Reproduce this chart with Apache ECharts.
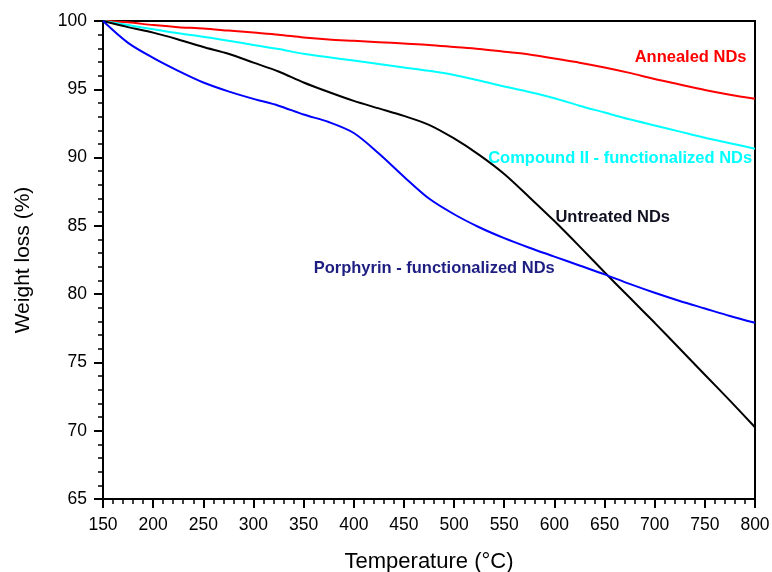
<!DOCTYPE html>
<html>
<head>
<meta charset="utf-8">
<script src="https://cdn.jsdelivr.net/npm/echarts@6/dist/echarts.min.js"></script>
<style>
  html, body { margin: 0; padding: 0; background: #fff; }
  #chart { width: 772px; height: 572px; }
</style>
</head>
<body>
<div id="chart"></div>
<script>
// Temperature grid (°C) shared by all TGA curves
const temperatures = [150, 175, 200, 225, 250, 275, 300, 325, 350, 375, 400, 425, 450, 475,
                      500, 525, 550, 575, 600, 625, 650, 675, 700, 725, 750, 775, 800];

// Remaining weight (%) for each sample
const annealed = [100, 99.9, 99.7, 99.55, 99.45, 99.3, 99.15, 99.0, 98.8, 98.65, 98.55, 98.45, 98.35, 98.25,
                  98.1, 97.95, 97.75, 97.55, 97.25, 96.95, 96.6, 96.2, 95.75, 95.35, 94.95, 94.6, 94.3];
const compoundII = [100, 99.7, 99.4, 99.1, 98.85, 98.55, 98.25, 97.95, 97.6, 97.35, 97.1, 96.85, 96.6, 96.35,
                    96.05, 95.65, 95.2, 94.8, 94.35, 93.8, 93.3, 92.8, 92.35, 91.9, 91.45, 91.05, 90.65];
const untreated = [100, 99.55, 99.15, 98.65, 98.1, 97.6, 96.95, 96.3, 95.5, 94.8, 94.15, 93.6, 93.05, 92.4,
                   91.4, 90.2, 88.8, 87.1, 85.35, 83.5, 81.6, 79.75, 77.9, 76.0, 74.1, 72.2, 70.25];
const porphyrin = [100, 98.4, 97.3, 96.35, 95.5, 94.85, 94.3, 93.8, 93.15, 92.6, 91.8, 90.3, 88.6, 87.0,
                   85.85, 84.9, 84.1, 83.4, 82.75, 82.1, 81.45, 80.75, 80.1, 79.5, 78.95, 78.4, 77.9];

// Curve names, colours and where their captions sit (temperature, weight)
const seriesNames = ['Annealed NDs', 'Compound II - functionalized NDs', 'Untreated NDs', 'Porphyrin - functionalized NDs'];
const lineColors = ['#ff0000', '#00ffff', '#000000', '#0000ff'];
const captionColors = ['#ff0000', '#00ffff', '#111122', '#1e1e82'];
const captionAnchors = [[680, 97.3], [534, 89.9], [601, 85.65], [360, 81.85]];

// Axis ranges and tick labels
const xMin = 150, xMax = 800, xStep = 50;
const yMin = 65, yMax = 100, yStep = 5;

const font = '"Liberation Sans", Arial, sans-serif';
const values = [annealed, compoundII, untreated, porphyrin];

const chart = echarts.init(document.getElementById('chart'), null, { renderer: 'canvas' });

const series = values.map((vals, i) => ({
  name: seriesNames[i],
  type: 'line',
  data: temperatures.map((t, k) => [t, vals[k]]),
  showSymbol: false,
  smooth: 0.3,
  lineStyle: { color: lineColors[i], width: 2 },
  z: 3 + i,
  markPoint: {
    symbol: 'circle',
    symbolSize: 0,
    silent: true,
    data: [{
      coord: captionAnchors[i],
      label: {
        show: true,
        formatter: seriesNames[i],
        position: 'right',
        distance: 0,
        color: captionColors[i],
        fontFamily: font,
        fontWeight: 'bold',
        fontSize: 16.5
      }
    }]
  }
}));

const axisCommon = {
  axisLine: { show: true, onZero: false, lineStyle: { color: '#000', width: 2 } },
  axisTick: { show: true, inside: false, length: 9, lineStyle: { color: '#000', width: 2 } },
  minorTick: { show: true, splitNumber: 5, length: 5, lineStyle: { color: '#000', width: 1.5 } },
  splitLine: { show: false },
  axisLabel: { color: '#000', fontFamily: font, fontSize: 17.5 }
};

chart.setOption({
  animation: false,
  backgroundColor: '#fff',
  grid: {
    left: 103, right: 17, top: 21, bottom: 73,
    outerBoundsMode: 'none',
    containLabel: false,
    show: true, borderColor: '#000', borderWidth: 2, backgroundColor: 'transparent'
  },
  xAxis: Object.assign({}, axisCommon, {
    type: 'value',
    min: xMin, max: xMax, interval: xStep,
    name: 'Temperature (°C)',
    nameLocation: 'middle',
    nameGap: 52,
    nameTextStyle: { color: '#000', fontFamily: font, fontSize: 22 },
    axisLabel: Object.assign({}, axisCommon.axisLabel, { margin: 17 })
  }),
  yAxis: Object.assign({}, axisCommon, {
    type: 'value',
    min: yMin, max: yMax, interval: yStep,
    name: 'Weight loss (%)',
    nameLocation: 'middle',
    nameGap: 69,
    nameRotate: 90,
    nameTextStyle: { color: '#000', fontFamily: font, fontSize: 21 },
    axisLabel: Object.assign({}, axisCommon.axisLabel, { margin: 16 })
  }),
  series: series
});
</script>
</body>
</html>
